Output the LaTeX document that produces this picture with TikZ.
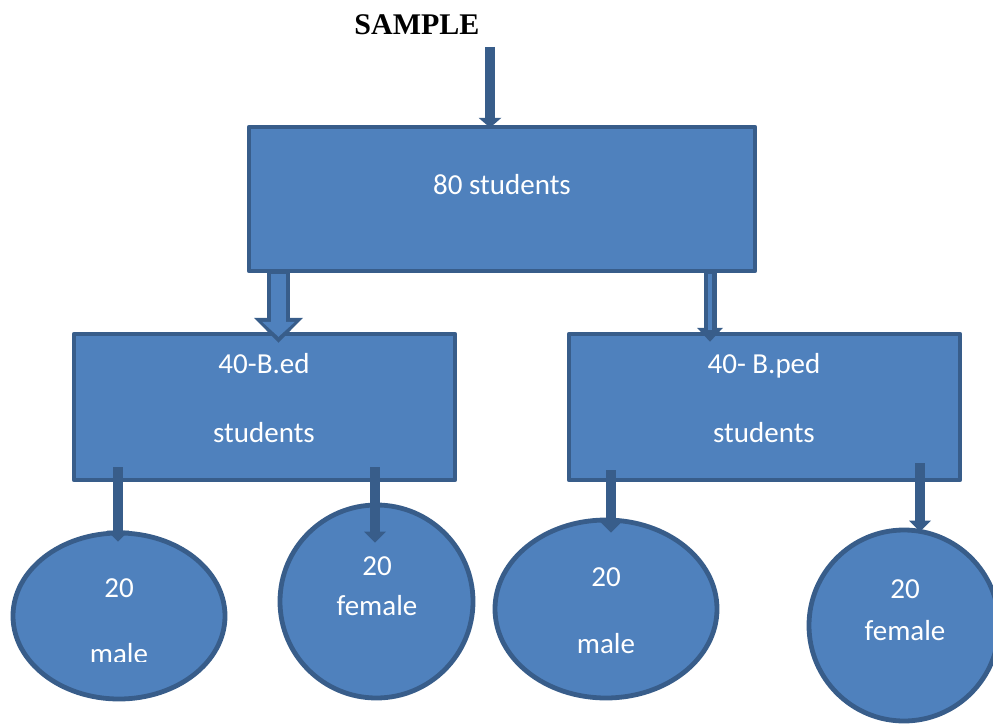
\documentclass[tikz,border=0pt]{standalone}
\usepackage{fontspec}
\setmainfont{Carlito}
\newfontfamily\serifbold{Liberation Serif}
\usetikzlibrary{shapes.geometric,arrows.meta,calc}
\definecolor{boxfill}{HTML}{4F81BD}
\definecolor{boxline}{HTML}{385D8A}
\begin{document}
\begin{tikzpicture}[x=1pt,y=-1pt,
  box/.style={rectangle,draw=boxline,fill=boxfill,line width=4.5pt,line join=round,inner sep=0pt},
  oval/.style={ellipse,draw=boxline,fill=boxfill,line width=4.8pt,inner sep=0pt},
  lbl/.style={text=white,font=\fontsize{29}{34}\selectfont,inner sep=0pt,anchor=base},
  smallarrow/.style={draw=boxline,line width=10pt,-{Triangle[width=22pt,length=11pt,line width=0pt]}},
]
\useasboundingbox (0,0) rectangle (993,725);

% title
\node[font=\serifbold\bfseries\fontsize{30}{34}\selectfont,anchor=base,inner sep=0pt] (sample) at (417,35) {SAMPLE};
\coordinate (sampletail) at (490,47);

% boxes
\node[box,minimum width=506pt,minimum height=144pt] (top) at (502,199) {};
\node[box,minimum width=381pt,minimum height=146pt] (bed) at (264.5,407) {};
\node[box,minimum width=391pt,minimum height=146pt] (bped) at (764.5,407) {};

% ovals
\node[oval,minimum width=212pt,minimum height=166pt] (m1) at (119,616) {};
\node[oval,minimum width=193pt,minimum height=193pt] (f1) at (376.5,601.5) {};
\node[oval,minimum width=222pt,minimum height=178pt] (m2) at (606,609) {};
\node[oval,minimum width=190pt,minimum height=191pt] (f2) at (904,625.5) {};

% labels
\node[lbl] (toptext) at (502,194) {80 students};
\node[lbl] (bedtext1) at (264,373) {40-B.ed};
\node[lbl] (bedtext2) at (264,442) {students};
\node[lbl] (bpedtext1) at (764,373) {40- B.ped};
\node[lbl] (bpedtext2) at (764,442) {students};
\node[lbl] (m1num) at (119,597) {20};
\begin{scope}
  \clip (0,600) rectangle (240,661);
  \node[lbl] (m1text) at (119,663) {male};
\end{scope}
\node[lbl] (f1num) at (377,575) {20};
\node[lbl] (f1text) at (377,615) {female};
\node[lbl] (m2num) at (606,586) {20};
\node[lbl] (m2text) at (606,653) {male};
\node[lbl] (f2num) at (905,598) {20};
\node[lbl] (f2text) at (905,640) {female};

% arrow from title
\draw[draw=boxline,line width=10pt,-{Triangle[width=23pt,length=10pt,line width=0pt]}]
  (sampletail) -- ([yshift=-3pt]sampletail |- top.north);

% block arrow to B.ed
\draw[draw=boxline,line width=23pt,-{Triangle[width=49pt,length=25pt,line width=0pt]}]
  ([xshift=-223.5pt,yshift=2pt]top.south) -- ([xshift=14pt,yshift=-11pt]bed.north);
\draw[draw=boxfill,line width=15pt,-{Triangle[width=33pt,length=15pt,line width=0pt]}]
  ([xshift=-223.5pt,yshift=-1pt]top.south) -- ([xshift=14pt,yshift=-5pt]bed.north);

% block arrow to B.ped
\draw[draw=boxline,line width=13pt,-{Triangle[width=26pt,length=14pt,line width=0pt]}]
  ([xshift=208pt,yshift=2pt]top.south) -- ([xshift=-54.5pt,yshift=-10pt]bped.north);
\draw[draw=boxfill,line width=3.5pt]
  ([xshift=208pt,yshift=-1pt]top.south) -- ([xshift=-54.5pt,yshift=2pt]bped.north);

% small arrows
\draw[smallarrow] ([xshift=-146.5pt,yshift=15pt]bed.south) -- ([xshift=-1pt,yshift=-11pt]m1.north);
\draw[smallarrow] ([xshift=110.5pt,yshift=15pt]bed.south) -- ([xshift=-1.5pt,yshift=-40pt]f1.north);
\draw[smallarrow] ([xshift=-153.5pt,yshift=12pt]bped.south) -- ([xshift=5pt,yshift=-15pt]m2.north);
\draw[smallarrow] ([xshift=155.5pt,yshift=19pt]bped.south) -- ([xshift=16pt,yshift=-4pt]f2.north);
\end{tikzpicture}
\end{document}
